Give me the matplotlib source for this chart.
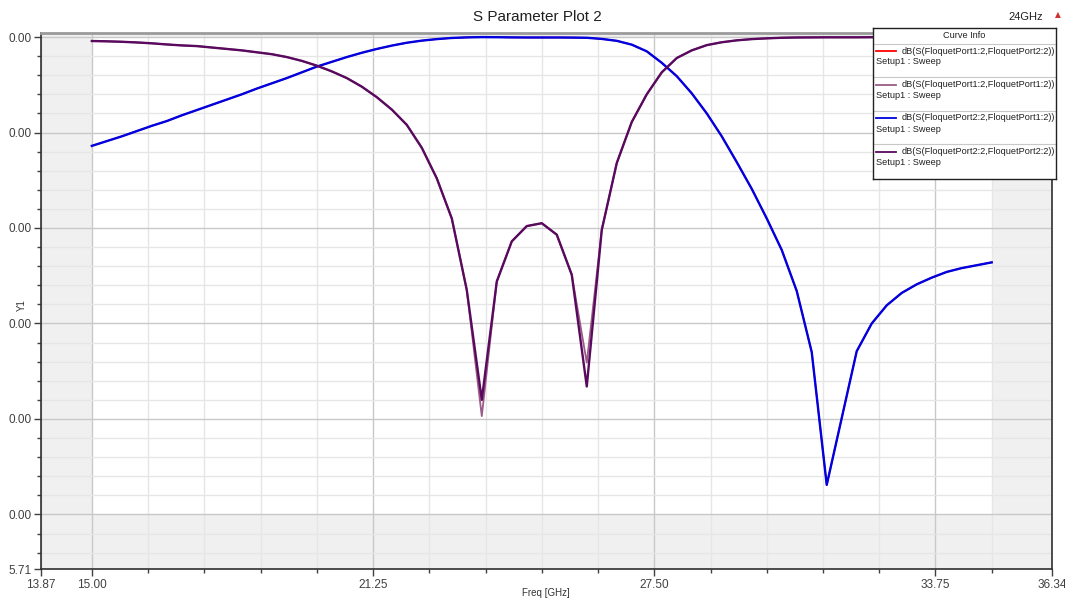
import numpy as np
import matplotlib
matplotlib.use('Agg')
import matplotlib.pyplot as plt

plt.rcParams['font.family'] = ['Liberation Sans', 'DejaVu Sans']

# sweep points (GHz), 1/3 GHz step from 15 to 35
freq = np.linspace(15.0, 35.0, 61)

# dB(S(FloquetPort2:2,FloquetPort1:2))  (blue) - S12 (red) lies underneath
s21 = [-11.4, -10.9, -10.4, -9.85, -9.3, -8.8, -8.2, -7.65, -7.1, -6.55,
       -6.0, -5.4, -4.85, -4.3, -3.7, -3.1, -2.6, -2.1, -1.65, -1.25,
       -0.9, -0.6, -0.38, -0.22, -0.1, -0.04, -0.01, -0.02, -0.04, -0.05,
       -0.05, -0.05, -0.06, -0.08, -0.2, -0.4, -0.8, -1.5, -2.7, -4.1,
       -5.9, -8.0, -10.4, -13.1, -15.9, -19.0, -22.3, -26.6, -33.0, -46.9,
       -39.9, -32.9, -30.0, -28.1, -26.8, -25.9, -25.2, -24.6, -24.2, -23.9,
       -23.6]
s12 = list(s21)

# dB(S(FloquetPort2:2,FloquetPort2:2))  (dark purple)
s22 = [-0.42, -0.45, -0.5, -0.57, -0.66, -0.78, -0.88, -0.95, -1.1, -1.25,
       -1.4, -1.6, -1.8, -2.1, -2.5, -3.0, -3.6, -4.3, -5.2, -6.3,
       -7.6, -9.2, -11.6, -14.8, -19.0, -26.5, -38.0, -25.6, -21.4, -19.8,
       -19.5, -20.7, -24.9, -36.6, -20.2, -13.2, -8.9, -6.0, -3.7, -2.2,
       -1.4, -0.85, -0.55, -0.35, -0.22, -0.14, -0.08, -0.05, -0.04, -0.03,
       -0.03, -0.03, -0.02, -0.02, -0.02, -0.02, -0.02, -0.02, -0.02, -0.02,
       -0.02]
# dB(S(FloquetPort1:2,FloquetPort1:2))  (mauve) - differs only at the dips
s11 = list(s22)
s11[26] = -39.7
s11[33] = -34.1

xlim = (13.87, 36.34)
ylim = (-55.71, 0.42)
xticks = [13.87, 15.0, 21.25, 27.5, 33.75, 36.34]
xticklabels = ['13.87', '15.00', '21.25', '27.50', '33.75', '36.34']
yticks = [-55.71, -50, -40, -30, -20, -10, 0]
yticklabels = ['5.71', '0.00', '0.00', '0.00', '0.00', '0.00', '0.00']

curves = [
    ('dB(S(FloquetPort1:2,FloquetPort2:2))', s12, '#FF0000', 1.1),
    ('dB(S(FloquetPort1:2,FloquetPort1:2))', s11, '#9A5C86', 1.3),
    ('dB(S(FloquetPort2:2,FloquetPort1:2))', s21, '#0000E0', 1.7),
    ('dB(S(FloquetPort2:2,FloquetPort2:2))', s22, '#5A0A5E', 1.7),
]

W, H = 1065, 601
fig = plt.figure(figsize=(W / 100, H / 100), dpi=100)
ax = fig.add_axes([41 / W, (H - 569) / H, (1052 - 41) / W, (569 - 33) / H])

# shaded area outside the data extent
shade = '#F0F0F0'
ax.axvspan(xlim[0], 15.0, color=shade, lw=0, zorder=0)
ax.axvspan(35.0, xlim[1], color=shade, lw=0, zorder=0)
ax.axhspan(ylim[0], -50, color=shade, lw=0, zorder=0)
ax.axhspan(0, ylim[1], color=shade, lw=0, zorder=0)

for name, vals, col, lw in curves:
    ax.plot(freq, vals, color=col, lw=lw, zorder=3)

ax.set_xlim(*xlim)
ax.set_ylim(*ylim)
ax.set_xticks(xticks)
ax.set_xticklabels(xticklabels)
ax.set_yticks(yticks)
ax.set_yticklabels(yticklabels)
ax.set_xticks([15 + 1.25 * k for k in range(17)], minor=True)
ax.set_yticks([v for v in range(-54, 1, 2) if v % 10], minor=True)

ax.set_axisbelow(True)
ax.grid(which='minor', color='#E6E6E6', lw=1.0)
ax.grid(which='major', color='#C8C8C8', lw=1.0)

ax.tick_params(which='major', direction='out', length=5, width=1,
               color='#404040', labelsize=8.5, labelcolor='#404040', pad=2)
ax.tick_params(which='minor', direction='out', length=3, width=1,
               color='#404040')

for s in ['left', 'bottom', 'right']:
    ax.spines[s].set_color('#303030')
    ax.spines[s].set_linewidth(1.2)
ax.spines['top'].set_color('#9A9A9A')
ax.spines['top'].set_linewidth(2)

fig.text(546 / W, 1 - 593 / H, 'Freq [GHz]', ha='center', va='center',
         fontsize=7, color='#333333')
fig.text(22 / W, 1 - 305 / H, 'Y1', ha='center', va='center', rotation=90,
         fontsize=7, color='#333333')

fig.text(537 / W, 1 - 17 / H, 'S Parameter Plot 2', ha='center', va='center',
         fontsize=11, color='#202020')
fig.text(1026 / W, 1 - 17 / H, '24GHz', ha='center', va='center',
         fontsize=8, color='#202020')
fig.text(1058 / W, 1 - 15 / H, '\u25b2', ha='center', va='center',
         fontsize=5.5, color='#D03030', family=['DejaVu Sans'])

# Curve Info box (pixel coordinates inside the box)
bx0, by0, bx1, by1 = 873, 28, 1056, 179
lg = fig.add_axes([bx0 / W, (H - by1) / H, (bx1 - bx0) / W, (by1 - by0) / H])
lg.set_xlim(0, bx1 - bx0)
lg.set_ylim(by1 - by0, 0)
lg.set_xticks([])
lg.set_yticks([])
lg.set_facecolor('white')
for s in lg.spines.values():
    s.set_color('#202020')
    s.set_linewidth(1.0)
lg.text((bx1 - bx0) / 2, 8, 'Curve Info', ha='center', va='center',
        fontsize=6.6, color='#202020')
lg.axhline(16, color='#C8C8C8', lw=0.8)
for i, (name, vals, col, lw) in enumerate(curves):
    top = 16 + 33.5 * i
    lg.plot([3, 23], [top + 7, top + 7], color=col, lw=1.3)
    lg.text(29, top + 7, name, ha='left', va='center', fontsize=6.6,
            color='#202020')
    lg.text(3, top + 18, 'Setup1 : Sweep', ha='left', va='center',
            fontsize=6.6, color='#202020')
    if i < 3:
        lg.axhline(top + 33, color='#C8C8C8', lw=0.8)

fig.savefig('out.png', dpi=100)
